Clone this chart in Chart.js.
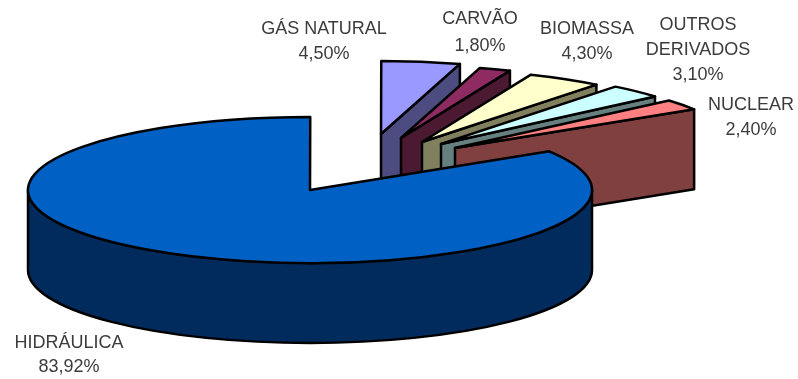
<!DOCTYPE html>
<html>
<head>
<meta charset="utf-8">
<title>Matriz</title>
<script src="https://cdn.jsdelivr.net/npm/chart.js@4"></script>
<style>
    body { margin: 0; background: #fff; }
    canvas { display: block; }
</style>
</head>
<body>
<canvas id="pieChart" width="798" height="379"></canvas>
<script>
// Chart data
const categories = ['HIDRÁULICA', 'GÁS NATURAL', 'CARVÃO', 'BIOMASSA', ['OUTROS', 'DERIVADOS'], 'NUCLEAR'];
const shares = [83.92, 4.5, 1.8, 4.3, 3.1, 2.4];

// Slice colours: top face and side wall
const topColors = ['#0060c4', '#9999ff', '#8f2b63', '#ffffcc', '#ccffff', '#ff8080'];
const sideColors = ['#002b5c', '#4c4c80', '#4c1933', '#80805f', '#668080', '#804040'];

// How far each slice is pulled out of the pie, in pixels
const pullX = [0, 71, 91, 112, 131, 145];
const pullY = [0, -56, -52, -48, -46, -42];

// Label placement: centre x, first baseline middle, line step
const labelX = [69, 324, 480, 587, 698, 751];
const labelY = [343, 29, 19, 29, 25, 105];
const labelStep = [24, 25, 27, 25, 25, 25];

// Tilt and thickness of the 3D look
const squash = 73 / 282;
const depth = 80;

function formatShare(value) {
    return value.toFixed(2).replace('.', ',') + '%';
}

// Top face of a slice, as a flattened sector
function drawTop(ctx, cx, cy, arc, fill) {
    ctx.beginPath();
    ctx.moveTo(cx, cy);
    ctx.ellipse(cx, cy, arc.outerRadius, arc.outerRadius * squash, 0, arc.startAngle, arc.endAngle);
    ctx.closePath();
    ctx.fillStyle = fill;
    ctx.fill();
    ctx.stroke();
}

// Flat wall along the trailing edge of a pulled out slice
function drawEdgeWall(ctx, cx, cy, arc, fill) {
    const ex = cx + arc.outerRadius * Math.cos(arc.endAngle);
    const ey = cy + arc.outerRadius * squash * Math.sin(arc.endAngle);
    ctx.beginPath();
    ctx.moveTo(cx, cy);
    ctx.lineTo(ex, ey);
    ctx.lineTo(ex, ey + depth);
    ctx.lineTo(cx, cy + depth);
    ctx.closePath();
    ctx.fillStyle = fill;
    ctx.fill();
    ctx.stroke();
}

// Curved outer wall, front half of the ellipse only
function drawRimWall(ctx, cx, cy, arc, fill) {
    const rx = arc.outerRadius;
    const ry = rx * squash;
    ctx.beginPath();
    ctx.ellipse(cx, cy, rx, ry, 0, 0, Math.PI);
    ctx.lineTo(cx - rx, cy + depth);
    ctx.ellipse(cx, cy + depth, rx, ry, 0, Math.PI, 0, true);
    ctx.closePath();
    ctx.fillStyle = fill;
    ctx.fill();
    ctx.stroke();
}

const pie3d = {
    id: 'pie3d',
    beforeDatasetDraw(chart, args) {
        const ctx = chart.ctx;
        const arcs = args.meta.data;

        ctx.save();
        ctx.strokeStyle = '#000';
        ctx.lineWidth = 2.5;
        ctx.lineJoin = 'round';

        // Pulled out slices first, the big one goes in front of them
        for (let i = 1; i < arcs.length; i++) {
            const cx = arcs[i].x + pullX[i];
            const cy = arcs[i].y + pullY[i];
            drawEdgeWall(ctx, cx, cy, arcs[i], sideColors[i]);
            drawTop(ctx, cx, cy, arcs[i], topColors[i]);
        }
        drawRimWall(ctx, arcs[0].x, arcs[0].y, arcs[0], sideColors[0]);
        drawTop(ctx, arcs[0].x, arcs[0].y, arcs[0], topColors[0]);
        ctx.restore();

        return false;
    },
    afterDatasetsDraw(chart) {
        const ctx = chart.ctx;
        ctx.save();
        ctx.fillStyle = '#3c3c3c';
        ctx.font = '18px "Liberation Sans"';
        ctx.textAlign = 'center';
        ctx.textBaseline = 'middle';
        categories.forEach((category, i) => {
            const lines = [].concat(category, formatShare(shares[i]));
            lines.forEach((line, n) => {
                ctx.fillText(line, labelX[i], labelY[i] + n * labelStep[i]);
            });
        });
        ctx.restore();
    }
};

new Chart(document.getElementById('pieChart').getContext('2d'), {
    type: 'pie',
    data: {
        labels: categories,
        datasets: [{ data: shares, backgroundColor: topColors }]
    },
    options: {
        responsive: false,
        animation: false,
        events: [],
        rotation: 58,
        radius: 282,
        layout: { padding: { right: 178, top: 1 } },
        plugins: {
            legend: { display: false },
            tooltip: { enabled: false }
        }
    },
    plugins: [pie3d]
});
</script>
</body>
</html>
